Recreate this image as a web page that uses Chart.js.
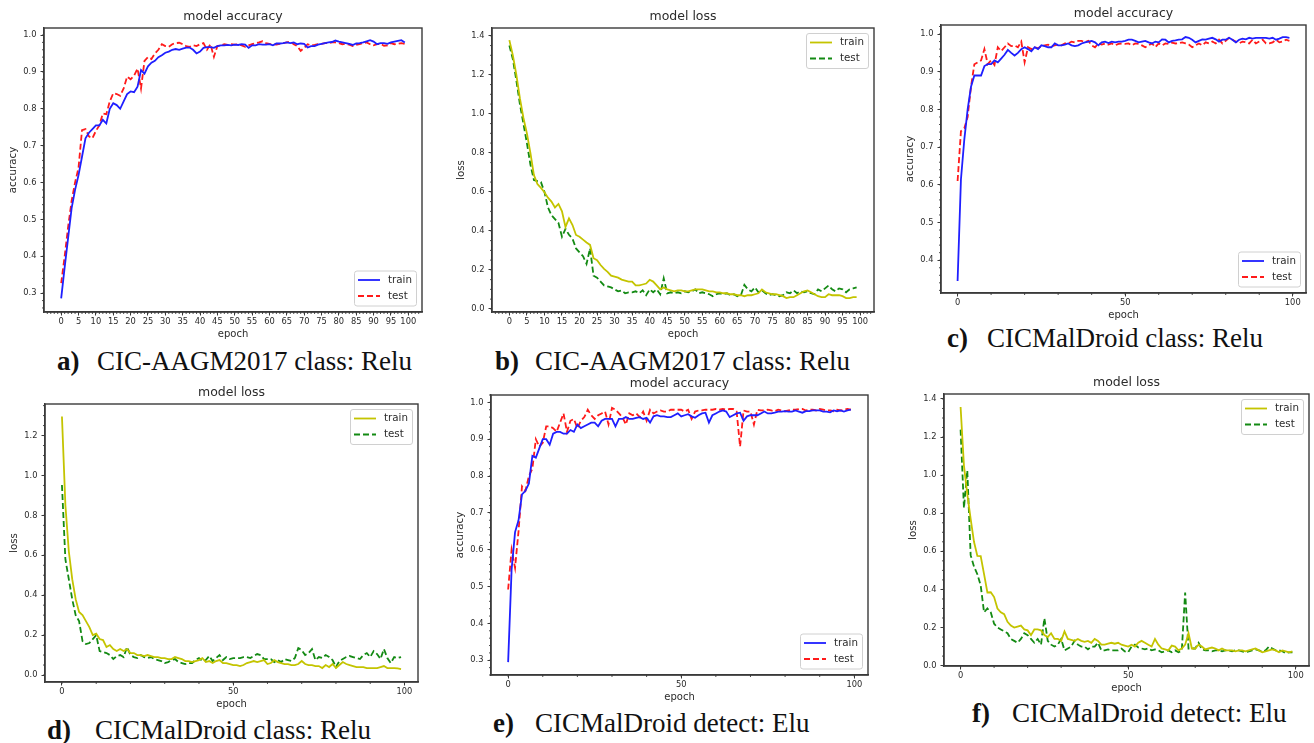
<!DOCTYPE html>
<html>
<head>
<meta charset="utf-8">
<script src="https://cdn.jsdelivr.net/npm/chart.js@4.4.0/dist/chart.umd.min.js"></script>
<style>
  body { margin: 0; background: #fff; width: 1314px; height: 743px; position: relative; overflow: hidden; }
  canvas { position: absolute; }
  .cap { position: absolute; font-family: "Liberation Serif", "Times New Roman", serif; font-size: 27px; line-height: 27px; color: #111; white-space: nowrap; }
  .cap.tag { font-weight: bold; }
</style>
</head>
<body>

<div class="cap tag" style="left:57px;top:348px">a)</div>
<div class="cap" style="left:97px;top:348px">CIC-AAGM2017 class: Relu</div>
<div class="cap tag" style="left:495px;top:348px">b)</div>
<div class="cap" style="left:535px;top:348px">CIC-AAGM2017 class: Relu</div>
<div class="cap tag" style="left:947px;top:325px">c)</div>
<div class="cap" style="left:987px;top:325px">CICMalDroid class: Relu</div>
<div class="cap tag" style="left:47px;top:717px">d)</div>
<div class="cap" style="left:95px;top:717px">CICMalDroid class: Relu</div>
<div class="cap tag" style="left:493px;top:710px">e)</div>
<div class="cap" style="left:535px;top:710px">CICMalDroid detect: Elu</div>
<div class="cap tag" style="left:972px;top:700px">f)</div>
<div class="cap" style="left:1012px;top:700px">CICMalDroid detect: Elu</div>

<script>
// epochs 0..99
const epochs = Array.from({ length: 100 }, (_, i) => i);

// tick labels
const epochTicksFine = [0, 5, 10, 15, 20, 25, 30, 35, 40, 45, 50, 55, 60, 65, 70, 75, 80, 85, 90, 95, 100];
const epochTicksCoarse = [0, 50, 100];
const accTicks = [0.3, 0.4, 0.5, 0.6, 0.7, 0.8, 0.9, 1.0];
const accTicksC = [0.4, 0.5, 0.6, 0.7, 0.8, 0.9, 1.0];
const lossTicks = [0.0, 0.2, 0.4, 0.6, 0.8, 1.0, 1.2, 1.4];
const lossTicksD = [0.0, 0.2, 0.4, 0.6, 0.8, 1.0, 1.2];

// a) CIC-AAGM2017 class, relu - accuracy
const accTrainA = [
  0.286, 0.37, 0.45, 0.53, 0.58, 0.62, 0.67, 0.72, 0.735, 0.745,
  0.755, 0.755, 0.77, 0.76, 0.80, 0.815, 0.81, 0.80, 0.82, 0.84,
  0.847, 0.845, 0.86, 0.905, 0.895, 0.915, 0.925, 0.93, 0.94, 0.945,
  0.952, 0.955, 0.96, 0.962, 0.96, 0.963, 0.966, 0.966, 0.96, 0.95,
  0.955, 0.965, 0.967, 0.967, 0.965, 0.97, 0.972, 0.972, 0.973, 0.972,
  0.974, 0.973, 0.975, 0.974, 0.965, 0.972, 0.972, 0.975, 0.974, 0.974,
  0.975, 0.972, 0.977, 0.977, 0.978, 0.98, 0.978, 0.98, 0.975, 0.977,
  0.976, 0.966, 0.97, 0.97, 0.974, 0.976, 0.978, 0.98, 0.981, 0.985,
  0.982, 0.98, 0.978, 0.976, 0.973, 0.977, 0.978, 0.98, 0.983, 0.986,
  0.982, 0.975, 0.978, 0.978, 0.976, 0.98, 0.982, 0.984, 0.986, 0.98
];
const accTestA = [
  0.327, 0.40, 0.48, 0.55, 0.60, 0.64, 0.742, 0.745, 0.725, 0.72,
  0.74, 0.755, 0.787, 0.785, 0.82, 0.842, 0.84, 0.835, 0.855, 0.887,
  0.88, 0.89, 0.909, 0.855, 0.93, 0.94, 0.935, 0.95, 0.96, 0.975,
  0.97, 0.968, 0.975, 0.978, 0.979, 0.975, 0.97, 0.968, 0.972, 0.97,
  0.975, 0.978, 0.96, 0.975, 0.941, 0.97, 0.972, 0.975, 0.973, 0.975,
  0.974, 0.975, 0.972, 0.968, 0.972, 0.975, 0.978, 0.98, 0.983, 0.978,
  0.976, 0.975, 0.974, 0.976, 0.978, 0.98, 0.982, 0.975, 0.97, 0.957,
  0.965, 0.975, 0.972, 0.973, 0.975, 0.976, 0.978, 0.978, 0.98, 0.98,
  0.978, 0.975, 0.976, 0.974, 0.97, 0.973, 0.975, 0.978, 0.98, 0.975,
  0.972, 0.975, 0.976, 0.971, 0.972, 0.978, 0.975, 0.976, 0.978, 0.976
];

// b) CIC-AAGM2017 class, relu - loss
const lossTrainB = [
  1.378, 1.30, 1.20, 1.08, 0.98, 0.90, 0.80, 0.686, 0.64, 0.62,
  0.598, 0.57, 0.55, 0.52, 0.538, 0.50, 0.42, 0.464, 0.43, 0.379,
  0.37, 0.355, 0.34, 0.328, 0.26, 0.25, 0.225, 0.205, 0.19, 0.17,
  0.165, 0.16, 0.15, 0.145, 0.14, 0.14, 0.12, 0.12, 0.125, 0.13,
  0.149, 0.14, 0.12, 0.10, 0.11, 0.10, 0.095, 0.09, 0.095, 0.095,
  0.09, 0.09, 0.095, 0.10, 0.10, 0.10, 0.095, 0.09, 0.09, 0.085,
  0.085, 0.08, 0.08, 0.075, 0.075, 0.07, 0.07, 0.065, 0.07, 0.07,
  0.075, 0.08, 0.10, 0.085, 0.08, 0.075, 0.075, 0.07, 0.065, 0.055,
  0.06, 0.06, 0.07, 0.08, 0.09, 0.095, 0.085, 0.075, 0.065, 0.06,
  0.06, 0.075, 0.07, 0.07, 0.07, 0.065, 0.055, 0.055, 0.06, 0.06
];
const lossTestB = [
  1.35, 1.28, 1.17, 1.05, 0.95, 0.85, 0.74, 0.66, 0.655, 0.65,
  0.60, 0.52, 0.48, 0.46, 0.44, 0.37, 0.41, 0.38, 0.36, 0.31,
  0.29, 0.27, 0.23, 0.31, 0.17, 0.16, 0.14, 0.12, 0.115, 0.11,
  0.10, 0.09, 0.095, 0.08, 0.085, 0.085, 0.09, 0.08, 0.095, 0.07,
  0.10, 0.085, 0.10, 0.075, 0.157, 0.08, 0.085, 0.08, 0.085, 0.08,
  0.09, 0.085, 0.09, 0.10, 0.08, 0.085, 0.08, 0.075, 0.065, 0.075,
  0.08, 0.075, 0.08, 0.07, 0.075, 0.065, 0.07, 0.123, 0.10, 0.09,
  0.11, 0.085, 0.095, 0.08, 0.07, 0.075, 0.07, 0.065, 0.07, 0.085,
  0.08, 0.095, 0.08, 0.09, 0.085, 0.09, 0.08, 0.075, 0.10, 0.09,
  0.105, 0.12, 0.10, 0.09, 0.105, 0.10, 0.085, 0.10, 0.105, 0.11
];

// c) CICMalDroid class, relu - accuracy
const accTrainC = [
  0.345, 0.614, 0.72, 0.80, 0.86, 0.89, 0.89, 0.89, 0.915, 0.92,
  0.92, 0.93, 0.925, 0.935, 0.945, 0.958, 0.95, 0.943, 0.95, 0.96,
  0.965, 0.96, 0.954, 0.965, 0.96, 0.97, 0.968, 0.965, 0.965, 0.975,
  0.97, 0.97, 0.972, 0.975, 0.97, 0.968, 0.97, 0.975, 0.978, 0.98,
  0.982, 0.978, 0.97, 0.978, 0.98, 0.976, 0.98, 0.978, 0.98, 0.98,
  0.982, 0.985, 0.985, 0.982, 0.978, 0.98, 0.982, 0.978, 0.975, 0.98,
  0.978, 0.986, 0.985, 0.978, 0.982, 0.983, 0.985, 0.986, 0.992, 0.99,
  0.985, 0.978, 0.982, 0.986, 0.985, 0.988, 0.99, 0.986, 0.98, 0.985,
  0.985, 0.99, 0.985, 0.978, 0.985, 0.988, 0.986, 0.99, 0.988, 0.99,
  0.99, 0.99, 0.99, 0.988, 0.99, 0.985, 0.988, 0.992, 0.992, 0.99
];
const accTestC = [
  0.61, 0.742, 0.75, 0.78, 0.86, 0.92, 0.925, 0.93, 0.96, 0.92,
  0.93, 0.918, 0.965, 0.955, 0.965, 0.975, 0.968, 0.97, 0.965, 0.98,
  0.925, 0.965, 0.96, 0.965, 0.962, 0.968, 0.97, 0.972, 0.968, 0.97,
  0.972, 0.97, 0.975, 0.975, 0.98, 0.978, 0.982, 0.982, 0.978, 0.982,
  0.97, 0.965, 0.975, 0.972, 0.975, 0.972, 0.975, 0.97, 0.974, 0.975,
  0.974, 0.975, 0.97, 0.975, 0.974, 0.97, 0.965, 0.97, 0.975, 0.965,
  0.975, 0.97, 0.975, 0.974, 0.977, 0.975, 0.976, 0.978, 0.975, 0.972,
  0.965, 0.97, 0.975, 0.97, 0.978, 0.975, 0.98, 0.975, 0.985, 0.975,
  0.982, 0.99, 0.985, 0.98, 0.975, 0.98, 0.978, 0.975, 0.985, 0.975,
  0.98, 0.985, 0.975, 0.975, 0.978, 0.985, 0.978, 0.98, 0.985, 0.982
];

// d) CICMalDroid class, relu - loss
const lossTrainD = [
  1.295, 0.852, 0.62, 0.48, 0.38, 0.316, 0.30, 0.27, 0.24, 0.20,
  0.207, 0.18, 0.175, 0.14, 0.15, 0.13, 0.12, 0.13, 0.12, 0.13,
  0.11, 0.11, 0.10, 0.10, 0.095, 0.10, 0.095, 0.09, 0.09, 0.085,
  0.085, 0.08, 0.08, 0.09, 0.085, 0.08, 0.07, 0.07, 0.065, 0.07,
  0.075, 0.085, 0.065, 0.07, 0.06, 0.07, 0.075, 0.06, 0.06, 0.055,
  0.05, 0.05, 0.045, 0.05, 0.06, 0.065, 0.07, 0.065, 0.07, 0.075,
  0.055, 0.06, 0.075, 0.065, 0.06, 0.055, 0.055, 0.05, 0.05, 0.055,
  0.07, 0.055, 0.05, 0.05, 0.045, 0.045, 0.035, 0.05, 0.04, 0.055,
  0.035, 0.05, 0.065, 0.055, 0.05, 0.045, 0.04, 0.04, 0.04, 0.035,
  0.035, 0.035, 0.035, 0.04, 0.045, 0.035, 0.035, 0.035, 0.033, 0.03
];
const lossTestD = [
  0.952, 0.58, 0.48, 0.38, 0.30, 0.27, 0.17, 0.155, 0.16, 0.18,
  0.20, 0.12, 0.115, 0.11, 0.10, 0.08, 0.095, 0.10, 0.09, 0.14,
  0.10, 0.09, 0.085, 0.10, 0.09, 0.085, 0.09, 0.08, 0.075, 0.07,
  0.06, 0.065, 0.075, 0.08, 0.065, 0.06, 0.055, 0.06, 0.06, 0.075,
  0.085, 0.07, 0.075, 0.095, 0.07, 0.085, 0.10, 0.075, 0.09, 0.08,
  0.085, 0.085, 0.085, 0.09, 0.09, 0.085, 0.095, 0.105, 0.10, 0.08,
  0.08, 0.08, 0.065, 0.075, 0.065, 0.08, 0.075, 0.07, 0.085, 0.135,
  0.125, 0.10, 0.11, 0.13, 0.075, 0.09, 0.085, 0.10, 0.09, 0.075,
  0.04, 0.07, 0.08, 0.09, 0.095, 0.09, 0.085, 0.08, 0.10, 0.11,
  0.09, 0.12, 0.105, 0.08, 0.13, 0.085, 0.06, 0.09, 0.085, 0.09
];

// e) CICMalDroid detect, elu - accuracy
const accTrainE = [
  0.295, 0.546, 0.648, 0.68, 0.75, 0.76, 0.78, 0.855, 0.85, 0.875,
  0.90, 0.90, 0.885, 0.915, 0.92, 0.92, 0.915, 0.915, 0.925, 0.92,
  0.94, 0.93, 0.935, 0.94, 0.945, 0.945, 0.935, 0.95, 0.955, 0.955,
  0.955, 0.935, 0.955, 0.955, 0.96, 0.955, 0.955, 0.958, 0.96, 0.955,
  0.958, 0.945, 0.962, 0.965, 0.962, 0.962, 0.96, 0.96, 0.965, 0.97,
  0.962, 0.965, 0.968, 0.962, 0.958, 0.965, 0.97, 0.972, 0.945, 0.965,
  0.97, 0.975, 0.978, 0.975, 0.96, 0.965, 0.97, 0.972, 0.95, 0.962,
  0.965, 0.965, 0.965, 0.97, 0.975, 0.97, 0.97, 0.972, 0.975, 0.975,
  0.976, 0.975, 0.975, 0.978, 0.975, 0.972, 0.976, 0.976, 0.978, 0.978,
  0.978, 0.975, 0.975, 0.973, 0.978, 0.976, 0.978, 0.975, 0.978, 0.98
];
const accTestE = [
  0.492, 0.60, 0.551, 0.65, 0.772, 0.76, 0.80, 0.82, 0.90, 0.88,
  0.89, 0.935, 0.935, 0.93, 0.92, 0.945, 0.97, 0.92, 0.95, 0.955,
  0.93, 0.95, 0.96, 0.98, 0.965, 0.955, 0.965, 0.97, 0.975, 0.94,
  0.985, 0.98, 0.97, 0.96, 0.94, 0.97, 0.965, 0.97, 0.96, 0.975,
  0.95, 0.98, 0.97, 0.975, 0.978, 0.975, 0.975, 0.98, 0.98, 0.98,
  0.98, 0.975, 0.98, 0.955, 0.975, 0.978, 0.978, 0.98, 0.98, 0.98,
  0.982, 0.98, 0.982, 0.98, 0.982, 0.982, 0.975, 0.88, 0.978, 0.975,
  0.975, 0.94, 0.98, 0.978, 0.978, 0.98, 0.978, 0.976, 0.98, 0.978,
  0.976, 0.978, 0.98, 0.98, 0.982, 0.982, 0.978, 0.98, 0.98, 0.978,
  0.982, 0.98, 0.978, 0.978, 0.976, 0.98, 0.978, 0.98, 0.982, 0.98
];

// f) CICMalDroid detect, elu - loss
const lossTrainF = [
  1.358, 1.05, 0.90, 0.77, 0.65, 0.576, 0.575, 0.48, 0.384, 0.385,
  0.36, 0.30, 0.28, 0.27, 0.23, 0.21, 0.20, 0.205, 0.21, 0.19,
  0.185, 0.16, 0.19, 0.19, 0.185, 0.16, 0.15, 0.17, 0.14, 0.14,
  0.13, 0.18, 0.14, 0.135, 0.13, 0.14, 0.13, 0.125, 0.13, 0.12,
  0.14, 0.13, 0.11, 0.11, 0.115, 0.12, 0.115, 0.12, 0.11, 0.105,
  0.10, 0.11, 0.10, 0.12, 0.13, 0.12, 0.11, 0.10, 0.14, 0.11,
  0.09, 0.085, 0.08, 0.105, 0.10, 0.08, 0.09, 0.11, 0.17, 0.09,
  0.09, 0.11, 0.10, 0.085, 0.09, 0.095, 0.09, 0.08, 0.09, 0.08,
  0.08, 0.08, 0.075, 0.08, 0.08, 0.075, 0.08, 0.085, 0.09, 0.08,
  0.07, 0.075, 0.08, 0.085, 0.08, 0.07, 0.08, 0.075, 0.07, 0.075
];
const lossTestF = [
  1.239, 0.827, 1.025, 0.58, 0.52, 0.48, 0.42, 0.28, 0.30, 0.28,
  0.22, 0.20, 0.19, 0.18, 0.17, 0.14, 0.13, 0.12, 0.14, 0.17,
  0.16, 0.14, 0.12, 0.14, 0.11, 0.249, 0.13, 0.11, 0.10, 0.11,
  0.14, 0.08, 0.09, 0.10, 0.13, 0.11, 0.10, 0.10, 0.085, 0.10,
  0.10, 0.12, 0.08, 0.08, 0.085, 0.08, 0.08, 0.08, 0.09, 0.075,
  0.07, 0.10, 0.11, 0.095, 0.09, 0.085, 0.09, 0.08, 0.085, 0.08,
  0.07, 0.075, 0.08, 0.07, 0.08, 0.07, 0.08, 0.384, 0.09, 0.09,
  0.09, 0.12, 0.085, 0.08, 0.08, 0.075, 0.08, 0.08, 0.075, 0.08,
  0.08, 0.075, 0.08, 0.08, 0.075, 0.07, 0.075, 0.08, 0.085, 0.08,
  0.075, 0.08, 0.10, 0.09, 0.08, 0.08, 0.075, 0.065, 0.07, 0.07
];

const INK = '#3a3a3a';
const TEXT = '#2b2b2b';
const BLUE = '#1f1fff', RED = '#ff1a1a', OLIVE = '#c4c400', GREEN = '#138a13';

Chart.defaults.font.family = '"DejaVu Sans", sans-serif';
Chart.defaults.color = TEXT;

// axes box on all four sides
const framePlugin = {
  id: 'frame',
  afterDraw(chart) {
    const { ctx, chartArea: a } = chart;
    ctx.save();
    ctx.strokeStyle = INK;
    ctx.lineWidth = 1.4;
    ctx.strokeRect(a.left, a.top, a.right - a.left, a.bottom - a.top);
    ctx.restore();
  }
};

// small outward ticks between the labelled ones
const minorTicks = {
  id: 'minorTicks',
  afterDraw(chart, args, opts) {
    const { ctx, chartArea: a, scales: { x, y } } = chart;
    ctx.save();
    ctx.strokeStyle = INK;
    ctx.lineWidth = 0.9;
    ctx.beginPath();
    for (let k = Math.ceil(x.min / opts.x); k * opts.x <= x.max; k++) {
      const px = x.getPixelForValue(k * opts.x);
      ctx.moveTo(px, a.bottom);
      ctx.lineTo(px, a.bottom + 2);
    }
    for (let k = Math.ceil(y.min / opts.y - 1e-9); k * opts.y <= y.max + 1e-9; k++) {
      const py = y.getPixelForValue(k * opts.y);
      ctx.moveTo(a.left, py);
      ctx.lineTo(a.left - 2, py);
    }
    ctx.stroke();
    ctx.restore();
  }
};

// legend box drawn inside the plot, in a corner
const boxLegend = {
  id: 'boxLegend',
  afterDatasetsDraw(chart, args, opts) {
    const { ctx, chartArea: a } = chart;
    const w = 62, h = 35;
    const x0 = a.right - 5.5 - w;
    const y0 = opts.corner === 'upper' ? a.top + 5.5 : a.bottom - 6 - h;
    ctx.save();
    ctx.fillStyle = 'rgba(255,255,255,0.9)';
    ctx.strokeStyle = '#d0d0d0';
    ctx.lineWidth = 1;
    ctx.beginPath();
    ctx.roundRect(x0, y0, w, h, 2.5);
    ctx.fill();
    ctx.stroke();
    ctx.font = '10.3px "DejaVu Sans", sans-serif';
    ctx.textBaseline = 'middle';
    chart.data.datasets.forEach((ds, i) => {
      const cy = y0 + 9 + i * 16;
      ctx.strokeStyle = ds.borderColor;
      ctx.lineWidth = ds.borderWidth;
      ctx.setLineDash(ds.borderDash || []);
      ctx.beginPath();
      ctx.moveTo(x0 + 3.5, cy);
      ctx.lineTo(x0 + 25.5, cy);
      ctx.stroke();
      ctx.setLineDash([]);
      ctx.fillStyle = TEXT;
      ctx.fillText(ds.label, x0 + 33.5, cy);
    });
    ctx.restore();
  }
};

const panels = [
  { frame: [43.5, 28, 421.7, 312], title: 'model accuracy', yLabel: 'accuracy', yMin: 0.249, yMax: 1.019,
    yTicks: accTicks, yMinor: 0.02, xTicks: epochTicksFine, xMinor: 1, legend: 'lower',
    series: [{ label: 'train', values: accTrainA, color: BLUE }, { label: 'test', values: accTestA, color: RED, dash: [6, 3] }] },
  { frame: [491.7, 28, 873.9, 312], title: 'model loss', yLabel: 'loss', yMin: -0.016, yMax: 1.44,
    yTicks: lossTicks, yMinor: 0.05, xTicks: epochTicksFine, xMinor: 1, legend: 'upper',
    series: [{ label: 'train', values: lossTrainB, color: OLIVE }, { label: 'test', values: lossTestB, color: GREEN, dash: [6, 3] }] },
  { frame: [940.7, 25, 1306, 293.3], title: 'model accuracy', yLabel: 'accuracy', yMin: 0.313, yMax: 1.024,
    yTicks: accTicksC, yMinor: 0.02, xTicks: epochTicksCoarse, xMinor: 10, legend: 'lower',
    series: [{ label: 'train', values: accTrainC, color: BLUE }, { label: 'test', values: accTestC, color: RED, dash: [6, 3] }] },
  { frame: [44.8, 404, 417.8, 681.7], title: 'model loss', yLabel: 'loss', yMin: -0.035, yMax: 1.358,
    yTicks: lossTicksD, yMinor: 0.05, xTicks: epochTicksCoarse, xMinor: 10, legend: 'upper',
    series: [{ label: 'train', values: lossTrainD, color: OLIVE }, { label: 'test', values: lossTestD, color: GREEN, dash: [6, 3] }] },
  { frame: [490.5, 395, 867.7, 675.3], title: 'model accuracy', yLabel: 'accuracy', yMin: 0.26, yMax: 1.02,
    yTicks: accTicks, yMinor: 0.02, xTicks: epochTicksCoarse, xMinor: 10, legend: 'lower',
    series: [{ label: 'train', values: accTrainE, color: BLUE }, { label: 'test', values: accTestE, color: RED, dash: [6, 3] }] },
  { frame: [943.8, 394.3, 1308.5, 666], title: 'model loss', yLabel: 'loss', yMin: -0.002, yMax: 1.426,
    yTicks: lossTicks, yMinor: 0.05, xTicks: epochTicksCoarse, xMinor: 10, legend: 'upper',
    series: [{ label: 'train', values: lossTrainF, color: OLIVE }, { label: 'test', values: lossTestF, color: GREEN, dash: [6, 3] }] }
];

function makePanel(p) {
  const [L, T, R, B] = p.frame.map(Math.round);
  const cv = document.createElement('canvas');
  const w = R - L + 52, h = B - T + 56;
  cv.width = w;
  cv.height = h;
  cv.style.left = (L - 44) + 'px';
  cv.style.top = (T - 26) + 'px';
  cv.style.width = w + 'px';
  cv.style.height = h + 'px';
  document.body.appendChild(cv);

  new Chart(cv, {
    type: 'line',
    data: {
      datasets: p.series.map(s => ({
        label: s.label,
        data: epochs.map((e, i) => ({ x: e, y: s.values[i] })),
        borderColor: s.color,
        borderWidth: 1.8,
        borderDash: s.dash || [],
        pointRadius: 0,
        tension: 0,
        fill: false
      }))
    },
    options: {
      responsive: false,
      animation: false,
      devicePixelRatio: 1,
      layout: { padding: { left: 0, right: 8, top: 0, bottom: 0 } },
      plugins: {
        legend: { display: false },
        tooltip: { enabled: false },
        title: {
          display: true, text: p.title, color: TEXT, fullSize: false,
          font: { size: 12.5, weight: 'normal' },
          padding: { top: 7.5, bottom: 3.5 }
        },
        boxLegend: { corner: p.legend },
        minorTicks: { x: p.xMinor, y: p.yMinor }
      },
      scales: {
        x: {
          type: 'linear', bounds: 'data', min: -4.95, max: 103.95,
          afterBuildTicks: s => { s.ticks = p.xTicks.map(v => ({ value: v })); },
          afterFit: s => { s.height = 30; },
          grid: { drawOnChartArea: false, drawTicks: true, tickLength: 3.5, color: INK, lineWidth: 1 },
          border: { display: true, color: INK, width: 1.4 },
          ticks: { font: { size: 8.3 }, color: TEXT, padding: 1.5, autoSkip: false, maxRotation: 0, callback: v => String(v) },
          title: { display: true, text: 'epoch', color: TEXT, font: { size: 10 }, padding: { top: 0, bottom: 1.5 } }
        },
        y: {
          type: 'linear', bounds: 'data', min: p.yMin, max: p.yMax,
          afterBuildTicks: s => { s.ticks = p.yTicks.map(v => ({ value: v })); },
          afterFit: s => { s.width = 44; },
          grid: { drawOnChartArea: false, drawTicks: true, tickLength: 3.5, color: INK, lineWidth: 1 },
          border: { display: true, color: INK, width: 1.4 },
          ticks: { font: { size: 8.3 }, color: TEXT, padding: 4, callback: v => v.toFixed(1) },
          title: { display: true, text: p.yLabel, color: TEXT, font: { size: 10.3 }, padding: { top: 6.8, bottom: 0 } }
        }
      }
    },
    plugins: [minorTicks, framePlugin, boxLegend]
  });
}

panels.forEach(makePanel);
</script>
</body>
</html>
